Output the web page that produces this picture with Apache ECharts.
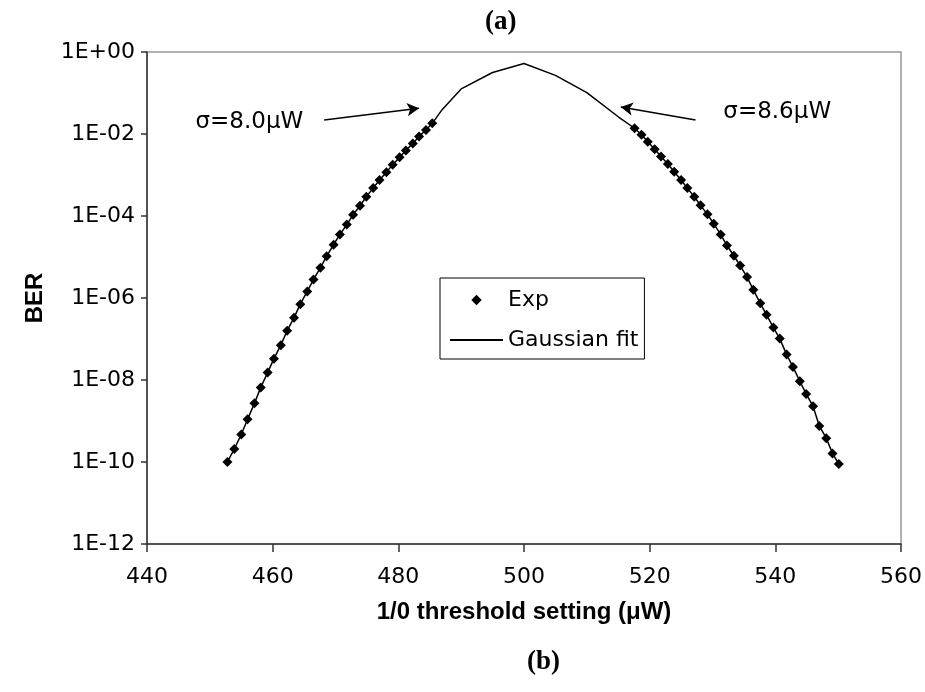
<!DOCTYPE html>
<html>
<head>
<meta charset="utf-8">
<script src="https://cdn.jsdelivr.net/npm/echarts@6/dist/echarts.min.js"></script>
<style>
html,body{margin:0;padding:0;background:#fff;}
#chart{width:925px;height:692px;}
</style>
</head>
<body>
<div id="chart"></div>
<script>
// Experimental points, left branch (threshold in µW, log10 BER)
const expLeftX = [452.8,453.9,455.0,456.0,457.1,458.1,459.2,460.2,461.3,462.3,463.4,464.4,465.5,466.5,467.6,468.6,469.7,470.7,471.8,472.8,473.9,474.9,476.0,477.0,478.1,479.1,480.2,481.2,482.3,483.3,484.4,485.4];
const expLeftLog = [-10.00,-9.68,-9.33,-8.96,-8.57,-8.18,-7.82,-7.48,-7.15,-6.80,-6.48,-6.15,-5.84,-5.55,-5.26,-4.98,-4.70,-4.45,-4.21,-3.97,-3.75,-3.53,-3.32,-3.12,-2.93,-2.75,-2.57,-2.40,-2.23,-2.06,-1.90,-1.74];
// Experimental points, right branch
const expRightX = [517.6,518.7,519.7,520.8,521.8,522.9,523.9,525.0,526.0,527.1,528.1,529.2,530.2,531.3,532.3,533.4,534.4,535.5,536.5,537.6,538.6,539.7,540.7,541.8,542.8,543.9,544.9,546.0,547.0,548.1,549.1,550.1];
const expRightLog = [-1.86,-2.02,-2.19,-2.37,-2.55,-2.73,-2.92,-3.12,-3.32,-3.53,-3.74,-3.96,-4.19,-4.45,-4.72,-4.97,-5.21,-5.49,-5.80,-6.13,-6.41,-6.72,-6.99,-7.38,-7.68,-8.03,-8.34,-8.64,-9.12,-9.42,-9.79,-10.05];
// Gaussian fit, peak section between the branches
const fitPeakX = [487,490,495,500,505,510,515];
const fitPeakLog = [-1.40,-0.90,-0.50,-0.28,-0.57,-0.99,-1.58];
// Axis ticks
const xTicks = [440,460,480,500,520,540,560];
const yTickExponents = [0,-2,-4,-6,-8,-10,-12];
// Annotations
const annotTexts = ['σ=8.0μW','σ=8.6μW'];
const annotTextPos = [[456.3,-1.71],[540.3,-1.46]];
const arrowFrom = [[468.2,-1.66],[527.3,-1.66]];
const arrowTo = [[483.3,-1.37],[515.4,-1.34]];

const p = v => Math.pow(10, v);
const expData = [];
expLeftX.forEach((x,i)=>expData.push([x, p(expLeftLog[i])]));
expData.push(null);
expRightX.forEach((x,i)=>expData.push([x, p(expRightLog[i])]));
const fitData = [];
expLeftX.forEach((x,i)=>fitData.push([x, p(expLeftLog[i])]));
fitPeakX.forEach((x,i)=>fitData.push([x, p(fitPeakLog[i])]));
expRightX.forEach((x,i)=>fitData.push([x, p(expRightLog[i])]));

const FONT = 'DejaVu Sans';
const chart = echarts.init(document.getElementById('chart'), null, {renderer:'canvas'});
chart.setOption({
  animation:false,
  backgroundColor:'#fff',
  title:[
    {text:'(a)', left:480, top:4, textStyle:{fontFamily:'Liberation Serif', fontWeight:'bold', fontSize:27, color:'#000'}},
    {text:'(b)', left:522, top:644, textStyle:{fontFamily:'Liberation Serif', fontWeight:'bold', fontSize:27, color:'#000'}}
  ],
  grid:{left:147, right:22, top:52, bottom:148, show:true, borderColor:'#999', borderWidth:1.5},
  legend:{
    data:[{name:'Exp'},{name:'Gaussian fit', itemStyle:{opacity:0}}], orient:'vertical', left:440, top:278,
    padding:[10,6,7,9], itemGap:16, itemWidth:53, itemHeight:13,
    borderColor:'#000', borderWidth:1, backgroundColor:'#fff',
    textStyle:{fontFamily:FONT, fontSize:22, color:'#000', lineHeight:24}
  },
  xAxis:{
    type:'value', min:440, max:560, interval:20,
    name:'1/0 threshold setting (μW)', nameLocation:'middle', nameGap:56,
    nameTextStyle:{fontFamily:'Liberation Sans Narrow, Liberation Sans', fontWeight:'bold', fontSize:24, color:'#000', verticalAlign:'top'},
    axisLine:{show:true, onZero:false, lineStyle:{color:'#333', width:1.5}},
    axisTick:{show:true, length:8, lineStyle:{color:'#333', width:1.5}},
    axisLabel:{fontFamily:FONT, fontSize:22, color:'#000', margin:22, formatter:v=>xTicks.includes(v)?String(v):''},
    splitLine:{show:false}
  },
  yAxis:{
    type:'log', logBase:10, min:p(yTickExponents[yTickExponents.length-1]), max:p(yTickExponents[0]), interval:2,
    name:'BER', nameLocation:'middle', nameGap:100, nameRotate:90,
    nameTextStyle:{fontFamily:'Liberation Sans', fontWeight:'bold', fontSize:24, color:'#000'},
    axisLine:{show:true, onZero:false, lineStyle:{color:'#333', width:1.5}},
    axisTick:{show:true, length:6, lineStyle:{color:'#333', width:1.5}},
    axisLabel:{fontFamily:FONT, fontSize:22, color:'#000', margin:12, formatter:v=>{
      const e = Math.round(Math.log10(v));
      const s = e<0?'-':'+';
      const a = Math.abs(e);
      return '1E'+s+(a<10?'0':'')+a;
    }},
    splitLine:{show:false}
  },
  series:[
    {name:'Gaussian fit', type:'line', data:fitData, showSymbol:false, symbol:'none',
     lineStyle:{color:'#000', width:1.5}, itemStyle:{color:'#000'}, z:2},
    {name:'Exp', type:'line', data:expData, symbol:'diamond', symbolSize:10, showSymbol:true,
     lineStyle:{width:0, opacity:0}, itemStyle:{color:'#000'}, z:3, connectNulls:false},
    {name:'arrows', type:'line', data:[], silent:true,
     markLine:{silent:true, symbol:['none','arrow'], symbolSize:[10,12], label:{show:false},
       lineStyle:{color:'#000', width:1.5, type:'solid'},
       data: arrowFrom.map((f,i)=>[{coord:[f[0], p(f[1])]},{coord:[arrowTo[i][0], p(arrowTo[i][1])]}])}
    }
  ]
});
const g = annotTexts.map((t,i)=>{
  const pt = chart.convertToPixel({gridIndex:0}, [annotTextPos[i][0], p(annotTextPos[i][1])]);
  return {type:'text', x:pt[0], y:pt[1], silent:true,
    style:{text:t, fontFamily:FONT, fontSize:23, fill:'#000', align:'center', verticalAlign:'middle'}};
});
chart.setOption({graphic:g});
</script>
</body>
</html>
